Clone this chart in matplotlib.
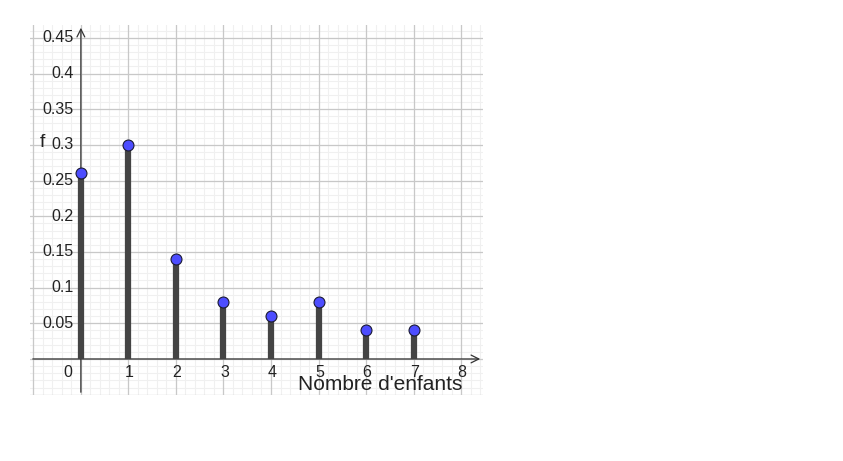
import matplotlib.pyplot as plt
import matplotlib.transforms as mtransforms
import numpy as np

plt.rcParams['font.family'] = ['Liberation Sans', 'DejaVu Sans']

# Données : nombre d'enfants et fréquences
enfants = [0, 1, 2, 3, 4, 5, 6, 7]
frequences = [0.26, 0.30, 0.14, 0.08, 0.06, 0.08, 0.04, 0.04]

x_ticks = [1, 2, 3, 4, 5, 6, 7, 8]
y_ticks = [0.05, 0.1, 0.15, 0.2, 0.25, 0.3, 0.35, 0.4, 0.45]
y_labels = ["0.05", "0.1", "0.15", "0.2", "0.25", "0.3", "0.35", "0.4", "0.45"]

fig = plt.figure(figsize=(8.43, 4.61), dpi=100)
ax = fig.add_axes([30 / 843, 66 / 461, 453 / 843, 370 / 461])

xmin, xmax = -1.07, 8.46
ymin, ymax = -0.0505, 0.468
ax.set_xlim(xmin, xmax)
ax.set_ylim(ymin, ymax)

# Quadrillage
for v in np.arange(-1, 8.5, 0.2):
    ax.axvline(v, color='#f0f0f0', lw=0.8, zorder=0)
for v in np.arange(-0.05, 0.47, 0.01):
    ax.axhline(v, color='#f0f0f0', lw=0.8, zorder=0)
for v in range(-1, 9):
    ax.axvline(v, color='#c8c8c8', lw=0.9, zorder=0)
for v in np.arange(-0.05, 0.47, 0.05):
    ax.axhline(v, color='#c8c8c8', lw=0.9, zorder=0)

for s in ax.spines.values():
    s.set_visible(False)
ax.set_xticks([])
ax.set_yticks([])

# Axes avec flèches
ax.annotate('', xy=(xmax, 0), xytext=(xmin, 0),
            arrowprops=dict(arrowstyle='->', color='#333333', lw=0.9,
                            mutation_scale=14), zorder=2)
ax.annotate('', xy=(0, ymax), xytext=(0, ymin),
            arrowprops=dict(arrowstyle='->', color='#333333', lw=0.9,
                            mutation_scale=14), zorder=2)

# Bâtons et points
ax.vlines(enfants, 0, frequences, color='#444444', lw=4.5, zorder=3)
ax.scatter(enfants, frequences, s=62, color='#4d4dff', edgecolor='#1a1a33',
           linewidth=0.8, zorder=4, clip_on=False)

# Graduations
tr_y = mtransforms.offset_copy(ax.transData, fig=fig, x=-7, y=0, units='dots')
for v, lab in zip(y_ticks, y_labels):
    ax.text(0, v, lab, transform=tr_y, ha='right', va='center', fontsize=11.5,
            color='#222222')
tr_x = mtransforms.offset_copy(ax.transData, fig=fig, x=1, y=-14, units='dots')
for v in x_ticks:
    ax.text(v, 0, str(v), transform=tr_x, ha='center', va='center', fontsize=11.5,
            color='#222222')
tr_0 = mtransforms.offset_copy(ax.transData, fig=fig, x=-13, y=-14, units='dots')
ax.text(0, 0, "0", transform=tr_0, ha='center', va='center', fontsize=11.5,
        color='#222222')

# Noms des axes
ax.text(-0.80, 0.303, "f", ha='center', va='center', fontsize=14, color='#222222')
ax.text(8.03, -0.036, "Nombre d'enfants", ha='right', va='center', fontsize=15,
        color='#222222')

plt.savefig('out.png', dpi=100)
plt.close()
